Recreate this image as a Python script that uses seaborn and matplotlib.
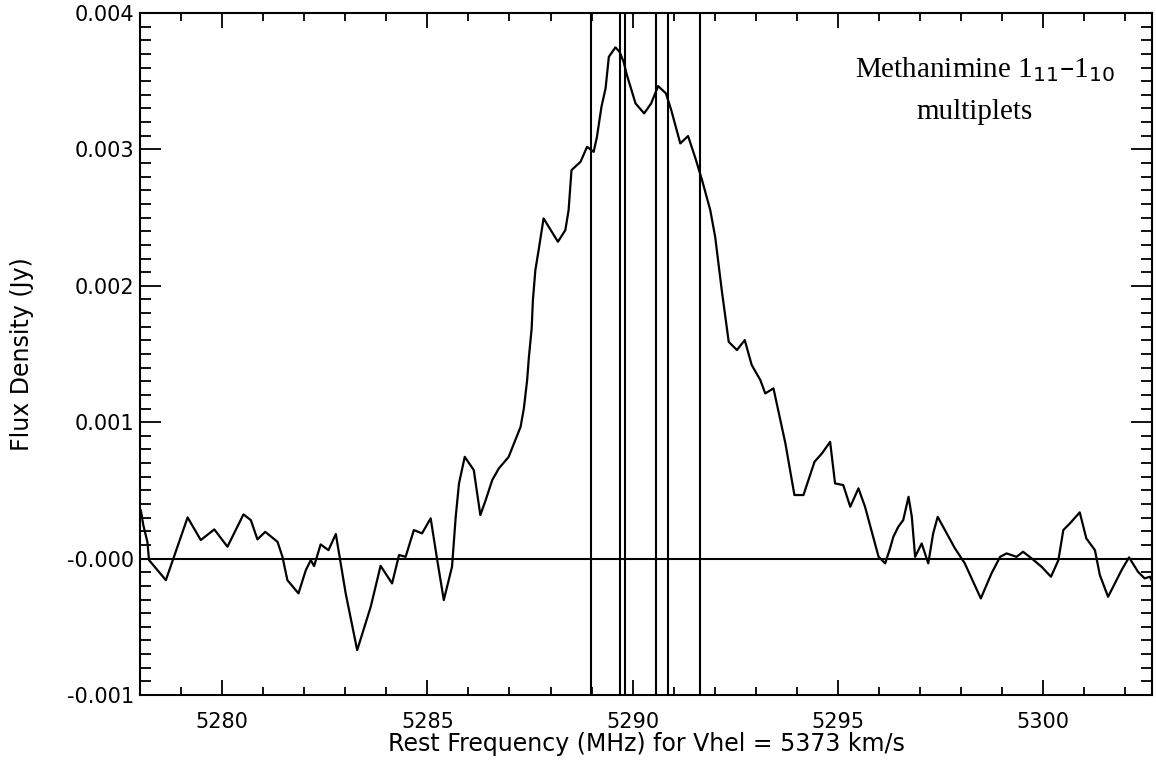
import matplotlib
matplotlib.use("Agg")
import matplotlib.pyplot as plt
from matplotlib.ticker import MultipleLocator
import seaborn as sns
import pandas as pd

# spectrum (MHz, Jy)
freq = [5278.02, 5278.08, 5278.18, 5278.22, 5278.63, 5279.16, 5279.48, 5279.81, 5280.13, 5280.52,
        5280.70, 5280.86, 5281.05, 5281.35, 5281.47, 5281.59, 5281.86, 5282.04, 5282.16, 5282.24,
        5282.40, 5282.59, 5282.77, 5283.01, 5283.29, 5283.62, 5283.86, 5284.14, 5284.31, 5284.47,
        5284.67, 5284.87, 5285.08, 5285.24, 5285.40, 5285.60, 5285.69, 5285.77, 5285.91, 5286.13,
        5286.29, 5286.42, 5286.58, 5286.74, 5286.98, 5287.27, 5287.35, 5287.43, 5287.47, 5287.54,
        5287.57, 5287.63, 5287.71, 5287.83, 5288.18, 5288.36, 5288.44, 5288.51, 5288.73, 5288.89,
        5289.05, 5289.13, 5289.24, 5289.34, 5289.42, 5289.58, 5289.68, 5289.78, 5289.86, 5290.07,
        5290.28, 5290.45, 5290.62, 5290.81, 5290.94, 5291.16, 5291.35, 5291.53, 5291.69, 5291.89,
        5292.01, 5292.17, 5292.34, 5292.54, 5292.73, 5292.90, 5293.11, 5293.23, 5293.43, 5293.72,
        5293.94, 5294.16, 5294.43, 5294.61, 5294.81, 5294.93, 5295.13, 5295.30, 5295.50, 5295.66,
        5295.99, 5296.15, 5296.27, 5296.35, 5296.47, 5296.59, 5296.72, 5296.80, 5296.88, 5297.04,
        5297.20, 5297.32, 5297.43, 5297.85, 5298.09, 5298.48, 5298.74, 5298.95, 5299.11, 5299.35,
        5299.51, 5299.72, 5299.96, 5300.19, 5300.37, 5300.49, 5300.65, 5300.89, 5301.05, 5301.26,
        5301.38, 5301.58, 5301.91, 5302.09, 5302.31, 5302.47, 5302.60, 5302.68]
flux_mjy = [0.356, 0.246, 0.122, -0.011, -0.158, 0.302, 0.136, 0.214, 0.087, 0.324,
            0.282, 0.141, 0.196, 0.123, 0.013, -0.158, -0.255, -0.084, -0.011, -0.055,
            0.104, 0.062, 0.180, -0.255, -0.671, -0.353, -0.053, -0.182, 0.026, 0.013,
            0.209, 0.185, 0.295, -0.011, -0.304, -0.060, 0.306, 0.551, 0.746, 0.649,
            0.319, 0.429, 0.576, 0.661, 0.746, 0.966, 1.101, 1.309, 1.468, 1.688,
            1.895, 2.115, 2.262, 2.494, 2.323, 2.408, 2.555, 2.848, 2.909, 3.019,
            2.982, 3.092, 3.312, 3.447, 3.679, 3.748, 3.716, 3.642, 3.545, 3.337,
            3.264, 3.337, 3.464, 3.411, 3.288, 3.044, 3.098, 2.934, 2.775, 2.555,
            2.359, 1.968, 1.589, 1.529, 1.602, 1.419, 1.309, 1.211, 1.248, 0.845,
            0.466, 0.466, 0.710, 0.771, 0.856, 0.551, 0.539, 0.380, 0.515, 0.380,
            0.013, -0.035, 0.075, 0.160, 0.233, 0.282, 0.453, 0.306, 0.013, 0.111,
            -0.035, 0.185, 0.306, 0.075, -0.035, -0.292, -0.109, 0.013, 0.038, 0.013,
            0.050, 0.001, -0.060, -0.133, -0.011, 0.209, 0.258, 0.339, 0.148, 0.062,
            -0.121, -0.280, -0.084, 0.009, -0.097, -0.145, -0.133, -0.182]

# multiplet component positions (MHz)
line_freqs = [5288.99, 5289.69, 5289.81, 5290.58, 5290.86, 5291.65]

x_ticks = [5280, 5285, 5290, 5295, 5300]
y_ticks = [-0.001, 0.0, 0.001, 0.002, 0.003, 0.004]
y_tick_labels = ["-0.001", "-0.000", "0.001", "0.002", "0.003", "0.004"]

df = pd.DataFrame({"freq": freq, "flux": [v / 1000 for v in flux_mjy]})

sns.set_style("ticks")
plt.rcParams["font.family"] = ["DejaVu Sans"]
plt.rcParams["text.color"] = "black"
plt.rcParams["axes.labelcolor"] = "black"
plt.rcParams["xtick.color"] = "black"
plt.rcParams["ytick.color"] = "black"

fig = plt.figure(figsize=(11.56, 7.70), dpi=100)
ax = fig.add_axes([140 / 1156, 1 - 695 / 770, 1012 / 1156, 682 / 770])

sns.lineplot(data=df, x="freq", y="flux", ax=ax, color="black", linewidth=1.6,
             estimator=None, sort=False)
ax.axhline(0, color="black", linewidth=1.5)
for f in line_freqs:
    ax.axvline(f, color="black", linewidth=1.5)

ax.set_xlim(5278.0, 5302.65)
ax.set_ylim(-0.001, 0.004)
ax.set_xticks(x_ticks)
ax.set_xticklabels([str(t) for t in x_ticks])
ax.set_yticks(y_ticks)
ax.set_yticklabels(y_tick_labels)
ax.xaxis.set_minor_locator(MultipleLocator(1))
ax.yaxis.set_minor_locator(MultipleLocator(0.0001))
ax.tick_params(axis="x", which="major", direction="in", length=11, width=1.3,
               top=True, bottom=True, labelsize=15, pad=12, colors="black")
ax.tick_params(axis="x", which="minor", direction="in", length=6, width=1.3,
               top=True, bottom=True, colors="black")
ax.tick_params(axis="y", which="major", direction="in", length=15, width=1.3,
               left=True, right=True, labelsize=15, pad=4, colors="black")
ax.tick_params(axis="y", which="minor", direction="in", length=8, width=1.3,
               left=True, right=True, colors="black")
for s in ax.spines.values():
    s.set_linewidth(1.5)
    s.set_color("black")
    s.set_visible(True)

ax.set_xlabel("Rest Frequency (MHz) for Vhel = 5373 km/s", fontsize=17, labelpad=0)
ax.set_ylabel("Flux Density (Jy)", fontsize=17, labelpad=24)

ax.text(0.835, 0.917, "Methanimine 1$_{11}$\u20131$_{10}$", transform=ax.transAxes,
        ha="center", va="center", fontsize=21, family="Liberation Serif")
ax.text(0.825, 0.855, "multiplets", transform=ax.transAxes,
        ha="center", va="center", fontsize=21, family="Liberation Serif")

fig.savefig("out.png", dpi=100)
